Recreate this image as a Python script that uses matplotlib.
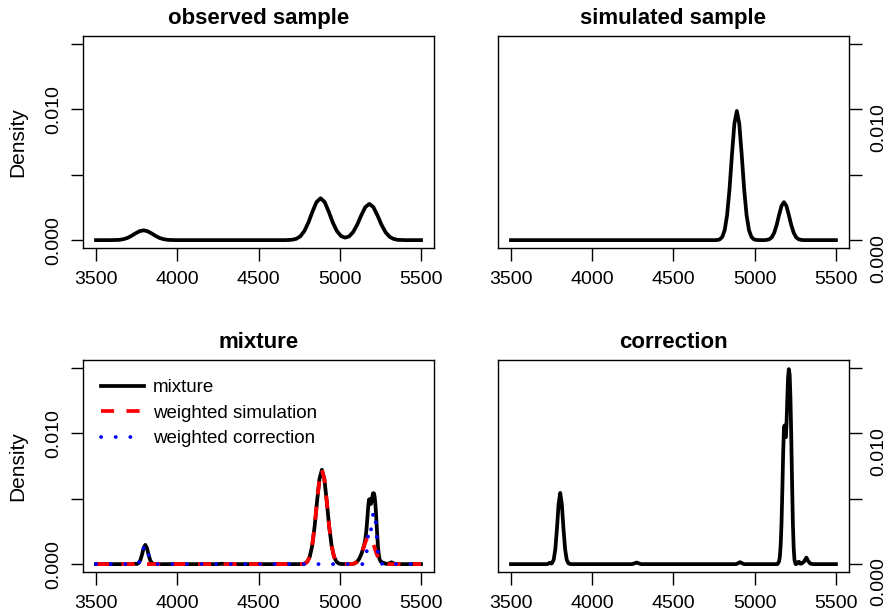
"""
density_panels.py -- observed / simulated / mixture / correction density
curves in four base-graphics style panels. Writes out.png.
"""
import matplotlib
matplotlib.use("Agg")
import matplotlib.pyplot as plt
from matplotlib.lines import Line2D

plt.rcParams["font.family"] = ["Liberation Sans", "DejaVu Sans"]

# observed sample density
OBS_X = [3500, 3567, 3592, 3617, 3642, 3667, 3692, 3717, 3742, 3767, 3792, 3817,
         3842, 3867, 3892, 3917, 3942, 3967, 3992,
         4657, 4682, 4707, 4732, 4757, 4782, 4807, 4832, 4857, 4882, 4907, 4932,
         4957, 4982, 5007, 5032, 5057, 5082, 5107, 5132, 5157, 5182, 5207, 5232,
         5257, 5282, 5307, 5332, 5357, 5382, 5407, 5500]
OBS_D = [0, 0, 0, 0.00001, 0.00002, 0.00007, 0.00016, 0.00032, 0.00051, 0.00068,
         0.00075, 0.00068, 0.00051, 0.00032, 0.00016, 0.00007, 0.00002, 0.00001, 0,
         0, 0.00001, 0.00003, 0.00010, 0.00029, 0.00069, 0.00135, 0.00218, 0.00291,
         0.00320, 0.00291, 0.00218, 0.00135, 0.00070, 0.00032, 0.00019, 0.00028,
         0.00061, 0.00117, 0.00189, 0.00252, 0.00277, 0.00252, 0.00189, 0.00117,
         0.00060, 0.00025, 0.00009, 0.00002, 0.00001, 0, 0]

# simulated sample density (and its weighted version in the mixture)
SIM_X = [3500, 4755, 4770, 4785, 4800, 4815, 4830, 4845, 4860, 4875, 4890, 4905,
         4920, 4935, 4950, 4965, 4980, 4995, 5010, 5040, 5060, 5075, 5090, 5105,
         5120, 5135, 5150, 5165, 5180, 5195, 5210, 5225, 5240, 5255, 5270, 5285,
         5300, 5500]
SIM_D = [0, 0, 0.00001, 0.00006, 0.00024, 0.00075, 0.00190, 0.00390, 0.00653,
         0.00890, 0.00987, 0.00890, 0.00653, 0.00390, 0.00190, 0.00075, 0.00024,
         0.00006, 0.00001, 0, 0, 0.00002, 0.00007, 0.00022, 0.00056, 0.00115,
         0.00192, 0.00262, 0.00290, 0.00262, 0.00192, 0.00115, 0.00056, 0.00022,
         0.00007, 0.00002, 0, 0]
WSIM_D = [0, 0, 0.00001, 0.00004, 0.00018, 0.00055, 0.00139, 0.00285, 0.00477,
          0.00650, 0.00721, 0.00650, 0.00477, 0.00285, 0.00139, 0.00055, 0.00018,
          0.00004, 0.00001, 0, 0, 0.00001, 0.00005, 0.00016, 0.00041, 0.00084,
          0.00140, 0.00191, 0.00212, 0.00191, 0.00140, 0.00084, 0.00041, 0.00016,
          0.00005, 0.00001, 0, 0]

# correction density (and its weighted version in the mixture)
COR_X = [3500, 3725, 3733, 3740, 3747, 3753, 3763, 3773, 3783, 3793, 3803, 3813,
         3823, 3833, 3843, 3853, 3863, 3880, 4245, 4258, 4273, 4288, 4301, 4885,
         4897, 4910, 4923, 4935, 5140, 5150, 5155, 5160, 5165, 5170, 5175, 5180,
         5184, 5188, 5192, 5196, 5200, 5205, 5210, 5215, 5220, 5225, 5230, 5235,
         5240, 5245, 5252, 5258, 5265, 5272, 5280, 5290, 5305, 5318, 5330, 5342,
         5360, 5500]
COR_D = [0, 0, 0.00007, 0.00011, 0.00004, 0.00008, 0.00034, 0.00115, 0.00272,
         0.00458, 0.00544, 0.00458, 0.00272, 0.00115, 0.00034, 0.00007, 0.00001, 0,
         0, 0.00005, 0.00012, 0.00005, 0, 0, 0.00006, 0.00015, 0.00006, 0, 0,
         0.0002, 0.0006, 0.0015, 0.0031, 0.0056, 0.0084, 0.0104, 0.0106, 0.0097,
         0.0097, 0.0108, 0.0124, 0.0142, 0.0149, 0.0145, 0.0127, 0.0097, 0.0062,
         0.0031, 0.0012, 0.0003, 0, 0.00002, 0.00015, 0.00018, 0.00003, 0.00005,
         0.00022, 0.0005, 0.00022, 0.00004, 0, 0]
WCOR_D = [0, 0, 0.00002, 0.00003, 0.00001, 0.00002, 0.00009, 0.00031, 0.00073,
          0.00124, 0.00147, 0.00124, 0.00073, 0.00031, 0.00009, 0.00002, 0, 0,
          0, 0.00001, 0.00003, 0.00001, 0, 0, 0.00002, 0.00004, 0.00002, 0, 0,
          0.00005, 0.00016, 0.00041, 0.00084, 0.00151, 0.00227, 0.00281, 0.00286,
          0.00262, 0.00262, 0.00292, 0.00335, 0.00383, 0.00402, 0.00392, 0.00343,
          0.00262, 0.00167, 0.00084, 0.00032, 0.00008, 0, 0.00001, 0.00004,
          0.00005, 0.00001, 0.00001, 0.00006, 0.00014, 0.00006, 0.00001, 0, 0]

# mixture density
MIX_X = [3500, 3725, 3733, 3740, 3747, 3753, 3763, 3773, 3783, 3793, 3803, 3813,
         3823, 3833, 3843, 3853, 3863, 3880, 4245, 4258, 4273, 4288, 4301, 4755,
         4770, 4785, 4800, 4815, 4830, 4845, 4860, 4875, 4890, 4905, 4920, 4935,
         4950, 4965, 4980, 4995, 5010, 5045, 5060, 5075, 5090, 5105, 5120, 5135,
         5150, 5155, 5160, 5165, 5170, 5175, 5180, 5184, 5188, 5192, 5196, 5200,
         5205, 5210, 5215, 5220, 5225, 5230, 5235, 5240, 5245, 5252, 5258, 5265,
         5272, 5280, 5290, 5305, 5318, 5330, 5342, 5360, 5500]
MIX_D = [0, 0, 0.00002, 0.00003, 0.00001, 0.00002, 0.00009, 0.00031, 0.00073,
         0.00124, 0.00147, 0.00124, 0.00073, 0.00031, 0.00009, 0.00002, 0, 0,
         0, 0.00001, 0.00003, 0.00001, 0, 0, 0.00001, 0.00004, 0.00018, 0.00055,
         0.00139, 0.00285, 0.00477, 0.00650, 0.00721, 0.00653, 0.00479, 0.00285,
         0.00139, 0.00055, 0.00018, 0.00004, 0.00001, 0, 0, 0.00001, 0.00005,
         0.00016, 0.00041, 0.00084, 0.00145, 0.00175, 0.00217, 0.00275, 0.00353,
         0.00436, 0.00493, 0.00497, 0.00468, 0.00460, 0.00480, 0.00511, 0.00542,
         0.00542, 0.00513, 0.00445, 0.00346, 0.00234, 0.00137, 0.00073, 0.00038,
         0.00020, 0.00014, 0.00012, 0.00009, 0.00003, 0.00002, 0.00006, 0.00014,
         0.00006, 0.00001, 0, 0]

TITLES = ["observed sample", "simulated sample", "mixture", "correction"]
LEGEND_LABELS = ["mixture", "weighted simulation", "weighted correction"]
XTICKS = [3500, 4000, 4500, 5000, 5500]
YTICKS = [0.0, 0.005, 0.010, 0.015]
YTICKLABELS = ["0.000", "", "0.010", ""]

LW = 2.7
DASHED = (0, (3.5, 3.3))
DOTTED = (0, (0.05, 3.85))


def style(ax, title, right=False):
    # R-like: 4% padding around data range, outward ticks, full box
    ax.set_xlim(3420, 5580)
    ax.set_ylim(-0.0006, 0.0156)
    ax.set_xticks(XTICKS)
    ax.set_yticks(YTICKS)
    ax.set_yticklabels(YTICKLABELS)
    ax.tick_params(direction="out", length=9, width=1.0, labelsize=14, pad=6,
                   colors="black")
    ax.tick_params(axis="x", pad=7.5)
    ax.tick_params(axis="y", labelrotation=90)
    for lab in ax.get_yticklabels():
        lab.set_va("center")
    if right:
        ax.yaxis.tick_right()
    else:
        ax.set_ylabel("Density", fontsize=15, labelpad=13)
    for s in ax.spines.values():
        s.set_linewidth(1.0)
    ax.set_title(title, fontsize=16, fontweight="bold", pad=8.5)


fig = plt.figure(figsize=(8.91, 6.12), dpi=100)
W, H = 0.3939, 0.3464
ax_obs = fig.add_axes([0.0932, 0.5948, W, H])
ax_sim = fig.add_axes([0.5589, 0.5948, W, H])
ax_mix = fig.add_axes([0.0932, 0.0654, W, H])
ax_cor = fig.add_axes([0.5589, 0.0654, W, H])

ax_obs.plot(OBS_X, OBS_D, color="black", lw=LW, solid_joinstyle="round")
style(ax_obs, TITLES[0])

ax_sim.plot(SIM_X, SIM_D, color="black", lw=LW, solid_joinstyle="round")
style(ax_sim, TITLES[1], right=True)

ax_mix.plot(MIX_X, MIX_D, color="black", lw=LW, solid_joinstyle="round")
ax_mix.plot(SIM_X, WSIM_D, color="red", lw=LW, linestyle=DASHED)
ax_mix.plot(COR_X, WCOR_D, color="blue", lw=LW, linestyle=DOTTED,
            dash_capstyle="round")
style(ax_mix, TITLES[2])
handles = [Line2D([], [], color="black", lw=LW),
           Line2D([], [], color="red", lw=LW, linestyle=DASHED),
           Line2D([], [], color="blue", lw=LW, linestyle=DOTTED,
                  dash_capstyle="round")]
ax_mix.legend(handles, LEGEND_LABELS, loc="upper left",
              bbox_to_anchor=(0.03, 0.945), frameon=False, fontsize=13.5,
              handlelength=2.3, handletextpad=0.45, labelspacing=0.45,
              borderaxespad=0)

ax_cor.plot(COR_X, COR_D, color="black", lw=LW, solid_joinstyle="round")
style(ax_cor, TITLES[3], right=True)

fig.savefig("out.png", dpi=100, facecolor="white")
